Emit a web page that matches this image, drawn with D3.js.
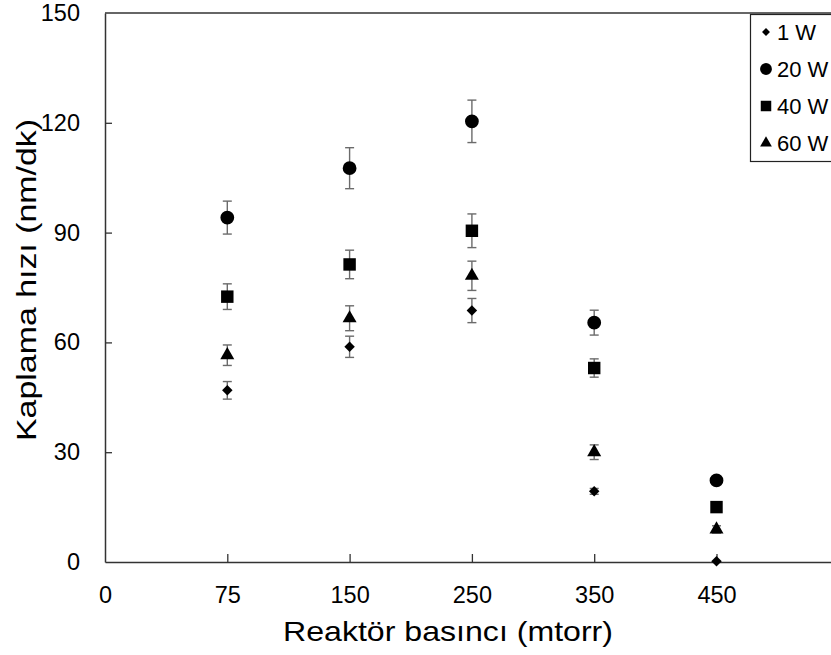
<!DOCTYPE html>
<html>
<head>
<meta charset="utf-8">
<script src="https://cdn.jsdelivr.net/npm/d3@7"></script>
<style>
  body { margin: 0; background: #fff; }
  svg { font-family: "Liberation Sans", Arial, sans-serif; }
</style>
</head>
<body>
<svg id="chart" width="831" height="655"></svg>
<script>
// pressure categories (mtorr), drawn as equally spaced slots
const pressures = ["0", "75", "150", "250", "350", "450"];
const pointPressures = ["75", "150", "250", "350", "450"];
const yTicks = [0, 30, 60, 90, 120, 150];

// deposition rate (nm/dk) and error per power
const rate1W = [46.9, 58.8, 68.7, 19.3, 0.2];
const err1W = [2.4, 2.9, 3.3, 0.8, 0];
const rate20W = [94.1, 107.6, 120.4, 65.4, 22.3];
const err20W = [4.5, 5.6, 5.8, 3.4, 0];
const rate40W = [72.5, 81.3, 90.5, 53.0, 15.0];
const err40W = [3.5, 3.9, 4.6, 2.5, 0];
const rate60W = [56.5, 66.6, 78.2, 30.0, 8.9];
const err60W = [2.8, 3.4, 4.0, 2.0, 1.0];

const seriesNames = ["1 W", "20 W", "40 W", "60 W"];

const series = [
  { name: seriesNames[0], values: rate1W, errs: err1W, symbol: d3.symbolDiamond2, size: 70, legendSize: 40 },
  { name: seriesNames[1], values: rate20W, errs: err20W, symbol: d3.symbolCircle, size: 150, legendSize: 110 },
  { name: seriesNames[2], values: rate40W, errs: err40W, symbol: d3.symbolSquare, size: 155, legendSize: 110 },
  { name: seriesNames[3], values: rate60W, errs: err60W, symbol: d3.symbolTriangle, size: 85, legendSize: 60 }
];

const margin = { top: 13, left: 105, bottom: 562 };
const svg = d3.select("#chart");

// one empty slot after 450 so the frame runs off the right edge like the original
const x = d3.scalePoint()
  .domain(pressures.concat(["end"]))
  .range([margin.left, margin.left + 6 * 122.3]);

const y = d3.scaleLinear()
  .domain([0, 150])
  .range([margin.bottom, margin.top]);

const axisColor = "#333";

// axes
const xAxis = svg.append("g")
  .attr("transform", `translate(0,${margin.bottom})`)
  .call(d3.axisBottom(x).tickValues(pressures).tickSizeInner(-8).tickSizeOuter(0).tickPadding(24));
xAxis.select(".domain").attr("stroke", axisColor).attr("stroke-width", 1.5);
xAxis.selectAll(".tick line").attr("stroke", axisColor).attr("stroke-width", 1.3);
xAxis.selectAll(".tick text").attr("font-size", 23.5).attr("fill", "#000");
xAxis.selectAll(".tick").filter(d => d === "0").select("line").remove();

const yAxis = svg.append("g")
  .attr("transform", `translate(${margin.left},0)`)
  .call(d3.axisLeft(y).tickValues(yTicks).tickSizeInner(-7).tickSizeOuter(0).tickPadding(25));
yAxis.select(".domain").attr("stroke", axisColor).attr("stroke-width", 1.5);
yAxis.selectAll(".tick line").attr("stroke", axisColor).attr("stroke-width", 1.3);
yAxis.selectAll(".tick").filter(d => d === 0 || d === 150).select("line").remove();
yAxis.selectAll(".tick text").attr("font-size", 23.5).attr("fill", "#000");

// top border
svg.append("line")
  .attr("x1", margin.left).attr("x2", 831)
  .attr("y1", y(150)).attr("y2", y(150))
  .attr("stroke", axisColor).attr("stroke-width", 1.5);

// axis titles
svg.append("text")
  .attr("x", 448).attr("y", 641)
  .attr("text-anchor", "middle")
  .attr("font-size", 28)
  .attr("textLength", 330)
  .attr("lengthAdjust", "spacingAndGlyphs")
  .text("Reaktör basıncı (mtorr)");

svg.append("text")
  .attr("transform", "translate(36,280) rotate(-90)")
  .attr("text-anchor", "middle")
  .attr("font-size", 28)
  .attr("textLength", 322)
  .attr("lengthAdjust", "spacingAndGlyphs")
  .text("Kaplama hızı (nm/dk)");

// error bars
const capW = 4.5;
series.forEach(s => {
  const g = svg.append("g").attr("stroke", "#6b6b6b").attr("stroke-width", 1.4).attr("fill", "none");
  pointPressures.forEach((p, i) => {
    const e = s.errs[i];
    if (!e) return;
    const cx = x(p);
    const y0 = y(s.values[i] - e), y1 = y(s.values[i] + e);
    g.append("line").attr("x1", cx).attr("x2", cx).attr("y1", y0).attr("y2", y1);
    g.append("line").attr("x1", cx - capW).attr("x2", cx + capW).attr("y1", y0).attr("y2", y0);
    g.append("line").attr("x1", cx - capW).attr("x2", cx + capW).attr("y1", y1).attr("y2", y1);
  });
});

// markers
series.forEach(s => {
  svg.append("g").selectAll("path")
    .data(s.values)
    .join("path")
    .attr("transform", (d, i) => `translate(${x(pointPressures[i])},${y(d)})`)
    .attr("d", d3.symbol().type(s.symbol).size(s.size))
    .attr("fill", "#000");
});

// legend
const legend = svg.append("g");
legend.append("rect")
  .attr("x", 750.5).attr("y", 14.5)
  .attr("width", 100).attr("height", 147)
  .attr("fill", "#fff").attr("stroke", "#222").attr("stroke-width", 1.2);

series.forEach((s, i) => {
  const ly = 32 + i * 37;
  legend.append("path")
    .attr("transform", `translate(766,${ly})`)
    .attr("d", d3.symbol().type(s.symbol).size(s.legendSize))
    .attr("fill", "#000");
  legend.append("text")
    .attr("x", 777).attr("y", ly)
    .attr("dy", "0.36em")
    .attr("font-size", 22)
    .text(s.name);
});
</script>
</body>
</html>
